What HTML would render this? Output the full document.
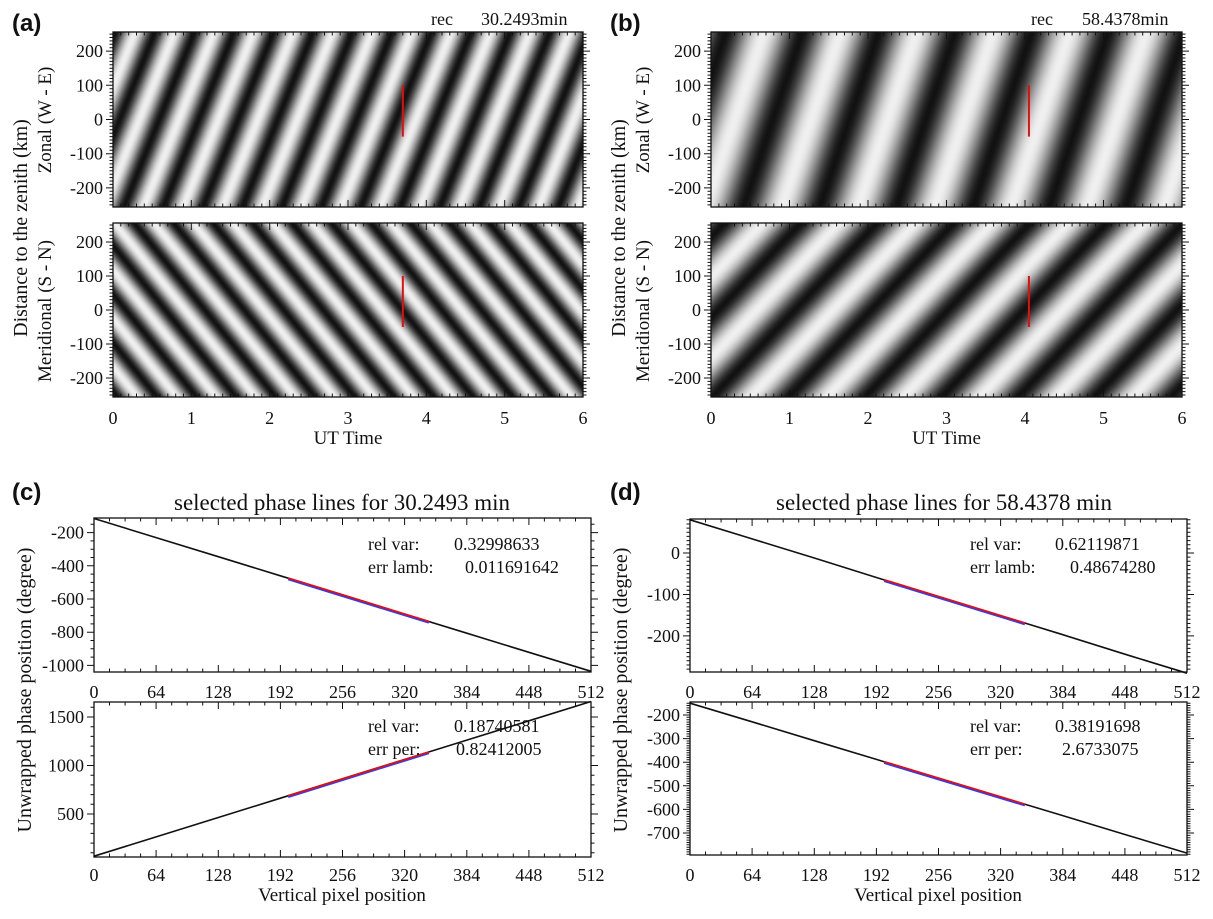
<!DOCTYPE html>
<html><head><meta charset="utf-8">
<style>
html,body{margin:0;padding:0;background:#fff;}
#wrap{position:relative;width:1213px;height:919px;overflow:hidden;background:#fff;}
canvas{position:absolute;}
svg{position:absolute;left:0;top:0;}
text{font-family:"Liberation Serif",serif;fill:#111;}
.lbl{font-family:"Liberation Sans",sans-serif;font-weight:bold;font-size:24px;}
</style></head>
<body>
<div id="wrap">
<canvas id="ha1" width="470" height="175" style="left:113px;top:32px"></canvas>
<canvas id="ha2" width="470" height="174" style="left:113px;top:223px"></canvas>
<canvas id="hb1" width="471" height="175" style="left:711px;top:32px"></canvas>
<canvas id="hb2" width="471" height="174" style="left:711px;top:223px"></canvas>
<svg id="svg" width="1213" height="919" xmlns="http://www.w3.org/2000/svg"></svg>
</div>
<script>
// ---- keogram wave parameters ----
const periodsMin = [30.2493, 58.4378];
const zonalLambdaKm = [287, 665];
const meridLambdaKm = [-143, 237];
const zonalPhase = [0.33, 0.69];
const meridPhase = [0.174, 0.404];
const redLineUT = [3.7, 4.05];
const redLineKm = [100, -50];
const utTicks = [0,1,2,3,4,5,6];
const kmTicks = [-200,-100,0,100,200];
// ---- phase line data (values at pixel 0,64,...,512) ----
const pixTicks = [0,64,128,192,256,320,384,448,512];
const cTopPhase = [-115,-230,-345,-460,-575,-691,-806,-921,-1036];
const cBotPhase = [65,264,464,663,863,1062,1262,1461,1660];
const dTopPhase = [80,34,-12,-59,-105,-151,-197,-244,-290];
const dBotPhase = [-150,-229,-309,-388,-468,-547,-626,-706,-785];
const fitRange = [200, 345];
const cTopYTicks = [-1000,-800,-600,-400,-200];
const cBotYTicks = [500,1000,1500];
const dTopYTicks = [-200,-100,0];
const dBotYTicks = [-700,-600,-500,-400,-300,-200];
const statsLabels = ['rel var:','err lamb:','rel var:','err per:'];
const statsC = ['0.32998633','0.011691642','0.18740581','0.82412005'];
const statsD = ['0.62119871','0.48674280','0.38191698','2.6733075'];

const NS='http://www.w3.org/2000/svg';
const svg=document.getElementById('svg');
function mk(tag,attrs){const e=document.createElementNS(NS,tag);for(const k in attrs)e.setAttribute(k,attrs[k]);svg.appendChild(e);return e;}
function txt(s,x,y,size,anchor,extra){const e=mk('text',Object.assign({x:x,y:y,'font-size':size,'text-anchor':anchor||'start'},extra||{}));e.textContent=s;return e;}

function heat(id,T,lam,phi){
  const c=document.getElementById(id),ctx=c.getContext('2d');
  const w=c.width,h=c.height,img=ctx.createImageData(w,h);
  for(let j=0;j<h;j++){
    const y=256-512*(j+0.5)/h;
    for(let i=0;i<w;i++){
      const t=6*(i+0.5)/w;
      const v=t*60/T - y/lam + phi;
      let g=0.5+0.5*Math.cos(2*Math.PI*v);
      g=Math.pow(g,0.9);
      const val=Math.round(18+g*222);
      const k=(j*w+i)*4;img.data[k]=val;img.data[k+1]=val;img.data[k+2]=val;img.data[k+3]=255;
    }
  }
  ctx.putImageData(img,0,0);
}
heat('ha1',periodsMin[0],zonalLambdaKm[0],zonalPhase[0]);
heat('ha2',periodsMin[0],meridLambdaKm[0],meridPhase[0]);
heat('hb1',periodsMin[1],zonalLambdaKm[1],zonalPhase[1]);
heat('hb2',periodsMin[1],meridLambdaKm[1],meridPhase[1]);

function axes(box,xr,yr,xMaj,xMin,yMaj,yMin,xLabs,yLabs,name){
  const sx=v=>box.x0+(v-xr[0])/(xr[1]-xr[0])*(box.x1-box.x0);
  const sy=v=>box.y1-(v-yr[0])/(yr[1]-yr[0])*(box.y1-box.y0);
  const r=mk('rect',{x:box.x0,y:box.y0,width:box.x1-box.x0,height:box.y1-box.y0,fill:'none',stroke:'#111','stroke-width':1.3});
  
  
  let d='';
  for(let v=Math.ceil(xr[0]/xMin)*xMin;v<=xr[1]+1e-9;v+=xMin){
    const X=sx(v).toFixed(1);const major=Math.abs(v/xMaj-Math.round(v/xMaj))<1e-6;const L=major?7:3.5;
    d+=`M${X},${box.y1}v${-L}M${X},${box.y0}v${L}`;
  }
  for(let v=Math.ceil(yr[0]/yMin)*yMin;v<=yr[1]+1e-9;v+=yMin){
    const Y=sy(v).toFixed(1);const major=Math.abs(v/yMaj-Math.round(v/yMaj))<1e-6;const L=major?7:3.5;
    d+=`M${box.x0},${Y}h${-L}M${box.x1},${Y}h${L}`;
  }
  const p=mk('path',{d:d,stroke:'#111','stroke-width':1,fill:'none'});
  
  
  xLabs.forEach(v=>{const t=txt(String(v),sx(v),box.y1+(box.lblDy||27),18,'middle');
    
    });
  yLabs.forEach(v=>{const t=txt(String(v),box.x0-10,sy(v)+6,18,'end');
    
    });
  return {sx,sy};
}

// keogram panels
[[113,583,0],[711,1182,1]].forEach(([x0,x1,k])=>{
  const pref=k===0?'panel-a':'panel-b';
  const A=axes({x0:x0,x1:x1,y0:32,y1:207},[0,6],[-256,256],1,0.1,100,10,[],kmTicks,pref+'-zonal');
  const B=axes({x0:x0,x1:x1,y0:223,y1:397},[0,6],[-256,256],1,0.1,100,10,utTicks,kmTicks,pref+'-meridional');
  [A,B].forEach((S,i)=>{
    const l=mk('line',{x1:S.sx(redLineUT[k]),x2:S.sx(redLineUT[k]),y1:S.sy(redLineKm[0]),y2:S.sy(redLineKm[1]),stroke:'#e01010','stroke-width':2});
    
    
  });
  const cx=(x0+x1)/2;
  let t=txt('UT Time',cx,444,19,'middle');
  
  
  const xo=k===0?0:598;
  t=txt('Distance to the zenith (km)',0,0,20,'middle',{transform:`translate(${27+xo},228) rotate(-90)`});
  
  
  t=txt('Zonal (W - E)',0,0,19,'middle',{transform:`translate(${51+xo},120) rotate(-90)`});
  
  
  t=txt('Meridional (S - N)',0,0,19,'middle',{transform:`translate(${51+xo},311) rotate(-90)`});
  
  
  t=txt('rec',k===0?431:1031,25,18,'start');
  
  
  t=txt(k===0?'30.2493min':'58.4378min',k===0?481:1082,25,18,'start');
  
  
});

// phase line panels
function phasePanel(box,yr,yMaj,yMin,yTicks,data,name){
  const S=axes(box,[0,512],yr,64,16,yMaj,yMin,pixTicks,yTicks,name);
  const pts=pixTicks.map((p,i)=>S.sx(p).toFixed(1)+','+S.sy(data[i]).toFixed(1)).join(' ');
  const pl=mk('polyline',{points:pts,fill:'none',stroke:'#111','stroke-width':1.6});
  
  
  const interp=x=>{const i=Math.min(7,Math.floor(x/64));const f=(x-pixTicks[i])/64;return data[i]+(data[i+1]-data[i])*f;};
  const bl=mk('line',{x1:S.sx(fitRange[0]),y1:S.sy(interp(fitRange[0]))+1,x2:S.sx(fitRange[1]),y2:S.sy(interp(fitRange[1]))+1,stroke:'#2a3cff','stroke-width':2.4});
  
  
  const rl=mk('line',{x1:S.sx(fitRange[0]),y1:S.sy(interp(fitRange[0])),x2:S.sx(fitRange[1]),y2:S.sy(interp(fitRange[1])),stroke:'#e01010','stroke-width':1.8});
  
  
}
phasePanel({x0:94,x1:591,y0:518,y1:672,lblDy:26},[-1040,-112],200,50,cTopYTicks,cTopPhase,'panel-c-top');
phasePanel({x0:94,x1:591,y0:702,y1:857,lblDy:24},[57,1655],500,100,cBotYTicks,cBotPhase,'panel-c-bottom');
phasePanel({x0:690,x1:1187,y0:519,y1:672,lblDy:26},[-287,82],100,10,dTopYTicks,dTopPhase,'panel-d-top');
phasePanel({x0:690,x1:1187,y0:702,y1:855,lblDy:26},[-793,-145],100,10,dBotYTicks,dBotPhase,'panel-d-bottom');

[[0,statsC,'panel-c',368,454,465],[596,statsD,'panel-d',970,1055,1070]].forEach(([xo,vals,pref,lx,v1,v2])=>{
  const ys=[550,573,732,755];
  ys.forEach((y,i)=>{
    let t=txt(statsLabels[i],lx,y,18,'start');
    
    
    const vx=(i===1)?v2:(i===3?(pref==='panel-c'?456:1062):v1);
    t=txt(vals[i],vx,y,18,'start');
    
    
  });
  let t=txt('selected phase lines for '+(pref==='panel-c'?'30.2493':'58.4378')+' min',(pref==='panel-c'?342:944),510,23,'middle');
  
  
  t=txt('Vertical pixel position',(pref==='panel-c'?342:938),901,19,'middle');
  
  
  t=txt('Unwrapped phase position (degree)',0,0,20,'middle',{transform:`translate(${(pref==='panel-c'?31:627)},690) rotate(-90)`});
  
  
});

[['(a)',12,31],['(b)',610,31],['(c)',12,500],['(d)',610,500]].forEach(([s,x,y])=>{
  const t=txt(s,x,y,24,'start',{class:'lbl'});
  
  
});
</script>
</body></html>
